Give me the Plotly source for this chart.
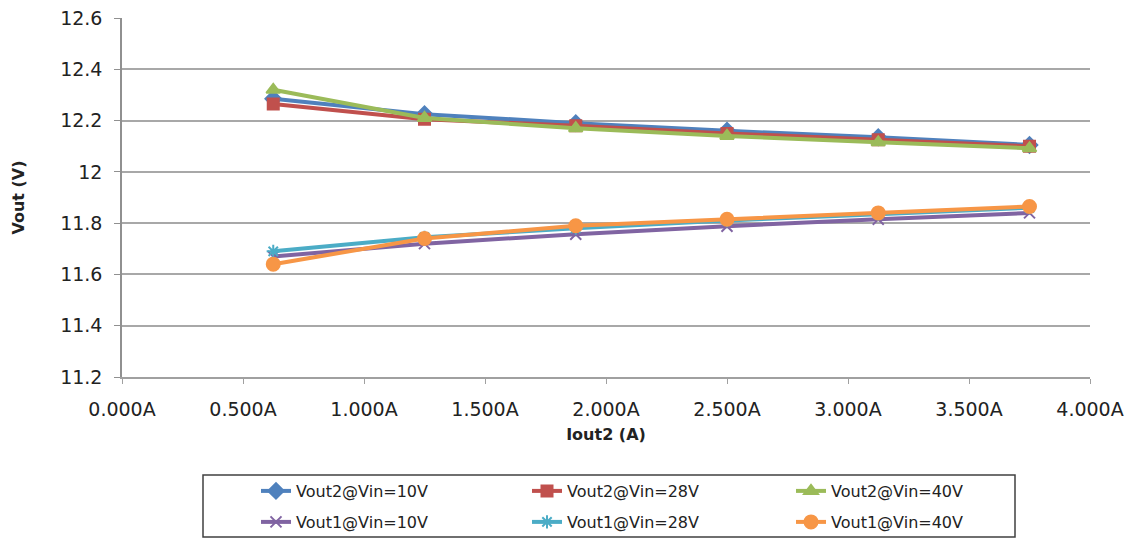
import plotly.graph_objects as go

iout = [0.625, 1.25, 1.875, 2.5, 3.125, 3.75]
vout2_10 = [12.285, 12.225, 12.19, 12.16, 12.135, 12.105]
vout2_28 = [12.265, 12.205, 12.18, 12.15, 12.125, 12.10]
vout2_40 = [12.32, 12.21, 12.17, 12.14, 12.115, 12.092]
vout1_10 = [11.67, 11.72, 11.757, 11.788, 11.815, 11.84]
vout1_28 = [11.69, 11.745, 11.78, 11.81, 11.835, 11.86]
vout1_40 = [11.64, 11.74, 11.79, 11.815, 11.84, 11.865]

x_tickvals = [0, 0.5, 1, 1.5, 2, 2.5, 3, 3.5, 4]
x_ticktext = ["0.000A", "0.500A", "1.000A", "1.500A", "2.000A", "2.500A", "3.000A", "3.500A", "4.000A"]
y_tickvals = [11.2, 11.4, 11.6, 11.8, 12.0, 12.2, 12.4, 12.6]
y_ticktext = ["11.2", "11.4", "11.6", "11.8", "12", "12.2", "12.4", "12.6"]

# name, values, colour, marker symbol, marker size, legend id
series = [
    ("Vout2@Vin=10V", vout2_10, "#4F81BD", "diamond", 12, "legend"),
    ("Vout2@Vin=28V", vout2_28, "#C0504D", "square", 11, "legend2"),
    ("Vout2@Vin=40V", vout2_40, "#9BBB59", "triangle-up", 12, "legend3"),
    ("Vout1@Vin=10V", vout1_10, "#8064A2", "x-thin-open", 11, "legend4"),
    ("Vout1@Vin=28V", vout1_28, "#4BACC6", "asterisk-open", 11, "legend5"),
    ("Vout1@Vin=40V", vout1_40, "#F79646", "circle", 13, "legend6"),
]

fig = go.Figure()
for name, ys, color, sym, size, leg in series:
    fig.add_trace(go.Scatter(
        x=iout, y=ys, name=name, mode="lines+markers", legend=leg,
        line=dict(color=color, width=4),
        marker=dict(symbol=sym, size=size, color=color, line=dict(color=color, width=2)),
    ))

font_family = "DejaVu Sans, Liberation Sans, Arial, sans-serif"

# plot area in pixels: x 122..1090, y 18..377
L, R, T, B = 122, 1090, 18, 377
W, H = R - L, B - T

def px_x(p):
    return (p - L) / W

def px_y(p):
    return (B - p) / H

leg_font = dict(family=font_family, size=16, color="#222222")
col_x = [256, 527, 791]
row_y = [491, 522]
legend_ids = ["legend", "legend2", "legend3", "legend4", "legend5", "legend6"]
layout_legends = {}
for i, lid in enumerate(legend_ids):
    r, c = divmod(i, 3)
    layout_legends[lid] = dict(
        x=px_x(col_x[c]), y=px_y(row_y[r]), xanchor="left", yanchor="middle",
        orientation="v", borderwidth=0, bgcolor="rgba(0,0,0,0)", font=leg_font,
    )

fig.update_layout(
    width=1131, height=539,
    margin=dict(l=L, r=1131 - R, t=T, b=539 - B, autoexpand=False),
    paper_bgcolor="white", plot_bgcolor="white",
    font=dict(family=font_family, size=19, color="#222222"),
    showlegend=True,
    xaxis=dict(
        range=[0, 4], tickvals=x_tickvals, ticktext=x_ticktext,
        showgrid=False, showline=True, linecolor="#a0a0a0", linewidth=1.5,
        ticks="outside", ticklen=5, tickcolor="#a0a0a0", ticklabelstandoff=9,
        tickfont=dict(size=19),
        title=dict(text="<b>Iout2 (A)</b>", font=dict(size=16, color="#222222"), standoff=10),
        zeroline=False,
    ),
    yaxis=dict(
        range=[11.2, 12.6], tickvals=y_tickvals, ticktext=y_ticktext,
        showgrid=True, gridcolor="#a8a8a8", gridwidth=1.5,
        showline=True, linecolor="#909090", linewidth=1.5,
        ticks="outside", ticklen=6, tickcolor="#909090", ticklabelstandoff=8,
        tickfont=dict(size=19),
        title=dict(text="<b>Vout (V)</b>", font=dict(size=16, color="#222222"), standoff=32),
        zeroline=False,
    ),
    shapes=[dict(
        type="rect", xref="paper", yref="paper",
        x0=px_x(203), x1=px_x(1015), y0=px_y(537), y1=px_y(475),
        line=dict(color="#404040", width=1.5), fillcolor="rgba(0,0,0,0)",
    )],
    **layout_legends,
)

fig.write_html("out.html", config={"displayModeBar": False},
               post_script="document.body.style.margin='0';")
